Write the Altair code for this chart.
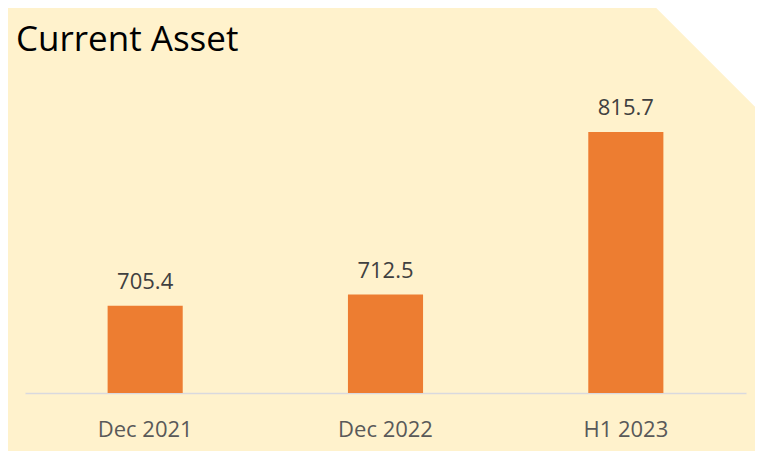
import altair as alt
import pandas as pd

# ---- data ----
categories = ["Dec 2021", "Dec 2022", "H1 2023"]
values = [705.4, 712.5, 815.7]
value_labels = ["705.4", "712.5", "815.7"]
title_text = ["Current Asset"]

df = pd.DataFrame({"period": categories, "value": values, "label": value_labels})
title_df = pd.DataFrame({"t": title_text})

FONT = "Open Sans"
BAR = "#ED7D31"
BG = "#FFF2CC"

x_enc = alt.X(
    "period:N",
    sort=categories,
    scale=alt.Scale(paddingInner=0.6875, paddingOuter=0.34375),
    axis=alt.Axis(
        title=None,
        labelAngle=0,
        ticks=False,
        labelPadding=26,
        labelFont=FONT,
        labelFontSize=22,
        labelColor="#595959",
        domainColor="#D9D9DE",
        domainWidth=1.5,
        grid=False,
    ),
)
y_scale = alt.Scale(domain=[650, 850], zero=False, nice=False)

base = alt.Chart(df)

bars = base.mark_bar(color=BAR).encode(
    x=x_enc,
    y=alt.Y("value:Q", scale=y_scale, axis=None),
    y2=alt.datum(650),
)

labels = base.mark_text(
    font=FONT, fontSize=22, color="#404040", baseline="alphabetic", dy=-17
).encode(
    x=alt.X("period:N", sort=categories),
    y=alt.Y("value:Q", scale=y_scale),
    text="label:N",
)

# decorative cut corner (white band along the top-right diagonal)
corner = alt.Chart(title_df).mark_rule(color="white", strokeWidth=200, strokeCap="butt").encode(
    x=alt.value(600), y=alt.value(-242.7), x2=alt.value(1000), y2=alt.value(157.3)
)

title = alt.Chart(title_df).mark_text(
    font=FONT, fontSize=35, color="#000000", align="left", baseline="alphabetic"
).encode(x=alt.value(-9), y=alt.value(-27), text="t:N")

chart = (
    alt.layer(corner, bars, labels, title)
    .properties(
        width=721,
        height=315,
        autosize=alt.AutoSizeParams(type="none"),
        padding={"left": 17, "top": 70, "right": 9, "bottom": 58},
        background=BG,
    )
    .configure_view(stroke=None)
)

chart.save("out.html", embed_options={"renderer": "svg", "actions": False})
